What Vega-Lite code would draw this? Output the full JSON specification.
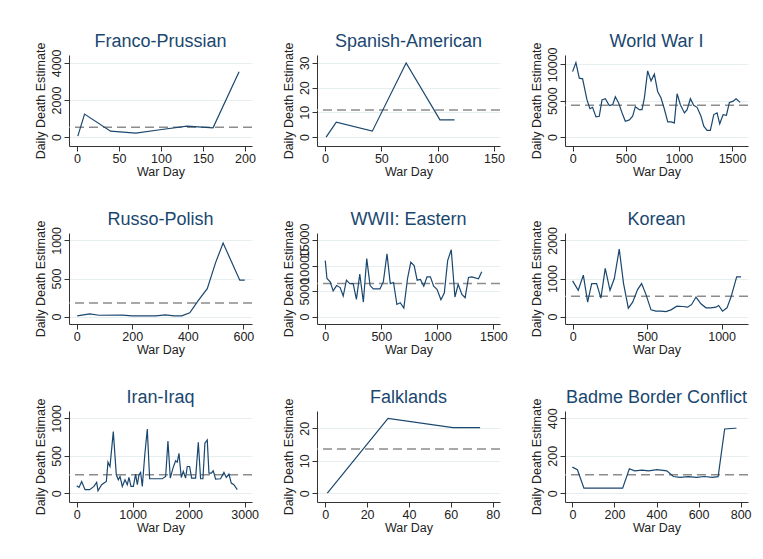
{
  "$schema": "https://vega.github.io/schema/vega-lite/v6.json",
  "background": "white",
  "padding": {"left": 33, "top": 33, "right": 5, "bottom": 5},
  "datasets": {
    "means": [
      {"war": "Franco-Prussian", "deaths": 533},
      {"war": "Spanish-American", "deaths": 11},
      {"war": "World War I", "deaths": 4360},
      {"war": "Russo-Polish", "deaths": 177},
      {"war": "WWII: Eastern", "deaths": 6500},
      {"war": "Korean", "deaths": 531},
      {"war": "Iran-Iraq", "deaths": 248},
      {"war": "Falklands", "deaths": 13.6},
      {"war": "Badme Border Conflict", "deaths": 99}
    ],
    "fp": [{"day":1,"deaths":50},{"day":9,"deaths":1240},{"day":40,"deaths":320},{"day":70,"deaths":210},{"day":101,"deaths":410},{"day":131,"deaths":590},{"day":162,"deaths":500},{"day":193,"deaths":3520}],
    "sa": [{"day":1,"deaths":0},{"day":10,"deaths":6},{"day":42,"deaths":2.4},{"day":72,"deaths":30},{"day":102,"deaths":7},{"day":115,"deaths":7}],
    "ww1": [{"day":0,"deaths":9000},{"day":31,"deaths":10230},{"day":63,"deaths":8090},{"day":94,"deaths":8000},{"day":135,"deaths":5140},{"day":163,"deaths":3900},{"day":188,"deaths":4090},{"day":220,"deaths":2770},{"day":251,"deaths":2860},{"day":276,"deaths":5090},{"day":308,"deaths":5270},{"day":345,"deaths":4320},{"day":377,"deaths":4450},{"day":402,"deaths":5545},{"day":433,"deaths":4680},{"day":471,"deaths":3090},{"day":496,"deaths":2180},{"day":534,"deaths":2360},{"day":565,"deaths":2860},{"day":590,"deaths":4180},{"day":628,"deaths":3770},{"day":653,"deaths":3770},{"day":675,"deaths":5360},{"day":706,"deaths":9090},{"day":738,"deaths":7730},{"day":769,"deaths":8640},{"day":800,"deaths":6270},{"day":832,"deaths":5360},{"day":863,"deaths":3860},{"day":895,"deaths":2090},{"day":926,"deaths":2090},{"day":957,"deaths":1950},{"day":983,"deaths":5950},{"day":1014,"deaths":4450},{"day":1052,"deaths":3320},{"day":1077,"deaths":3770},{"day":1108,"deaths":5270},{"day":1139,"deaths":4360},{"day":1171,"deaths":4090},{"day":1208,"deaths":2860},{"day":1234,"deaths":1500},{"day":1265,"deaths":910},{"day":1296,"deaths":910},{"day":1328,"deaths":3090},{"day":1359,"deaths":3320},{"day":1384,"deaths":1820},{"day":1416,"deaths":3090},{"day":1447,"deaths":3000},{"day":1475,"deaths":4770},{"day":1507,"deaths":4900},{"day":1538,"deaths":5270},{"day":1576,"deaths":4770}],
    "rp": [{"day":2,"deaths":10},{"day":47,"deaths":35},{"day":80,"deaths":18},{"day":164,"deaths":20},{"day":200,"deaths":10},{"day":284,"deaths":10},{"day":320,"deaths":22},{"day":350,"deaths":10},{"day":378,"deaths":10},{"day":407,"deaths":50},{"day":438,"deaths":212},{"day":470,"deaths":367},{"day":500,"deaths":708},{"day":527,"deaths":965},{"day":587,"deaths":478},{"day":605,"deaths":478}],
    "ww2": [{"day":0,"deaths":11020},{"day":15,"deaths":7500},{"day":44,"deaths":6840},{"day":70,"deaths":5050},{"day":101,"deaths":6110},{"day":133,"deaths":5710},{"day":160,"deaths":4050},{"day":189,"deaths":7170},{"day":219,"deaths":6500},{"day":249,"deaths":6500},{"day":278,"deaths":3390},{"day":308,"deaths":8360},{"day":340,"deaths":2860},{"day":370,"deaths":11420},{"day":400,"deaths":6110},{"day":429,"deaths":5440},{"day":459,"deaths":5440},{"day":488,"deaths":5440},{"day":518,"deaths":6840},{"day":551,"deaths":12350},{"day":580,"deaths":6500},{"day":609,"deaths":6710},{"day":639,"deaths":2390},{"day":669,"deaths":2720},{"day":701,"deaths":1660},{"day":734,"deaths":7500},{"day":763,"deaths":10690},{"day":793,"deaths":10030},{"day":820,"deaths":7170},{"day":849,"deaths":7300},{"day":879,"deaths":5980},{"day":908,"deaths":7830},{"day":938,"deaths":7830},{"day":967,"deaths":5980},{"day":997,"deaths":5380},{"day":1032,"deaths":3320},{"day":1062,"deaths":4650},{"day":1092,"deaths":11020},{"day":1124,"deaths":13150},{"day":1157,"deaths":3850},{"day":1186,"deaths":6370},{"day":1219,"deaths":4380},{"day":1248,"deaths":3720},{"day":1278,"deaths":7700},{"day":1308,"deaths":7830},{"day":1367,"deaths":7440},{"day":1396,"deaths":8830}],
    "ko": [{"day":0,"deaths":938},{"day":38,"deaths":690},{"day":72,"deaths":1088},{"day":101,"deaths":380},{"day":128,"deaths":867},{"day":161,"deaths":867},{"day":190,"deaths":487},{"day":219,"deaths":1265},{"day":251,"deaths":690},{"day":280,"deaths":1000},{"day":313,"deaths":1770},{"day":342,"deaths":867},{"day":374,"deaths":221},{"day":403,"deaths":380},{"day":436,"deaths":708},{"day":463,"deaths":867},{"day":492,"deaths":584},{"day":526,"deaths":177},{"day":559,"deaths":142},{"day":593,"deaths":142},{"day":626,"deaths":133},{"day":660,"deaths":177},{"day":700,"deaths":274},{"day":738,"deaths":265},{"day":772,"deaths":248},{"day":799,"deaths":319},{"day":828,"deaths":513},{"day":861,"deaths":336},{"day":895,"deaths":230},{"day":928,"deaths":230},{"day":962,"deaths":248},{"day":980,"deaths":292},{"day":1006,"deaths":142},{"day":1036,"deaths":230},{"day":1063,"deaths":513},{"day":1101,"deaths":1044},{"day":1130,"deaths":1044}],
    "ii": [{"day":0,"deaths":102},{"day":42,"deaths":80},{"day":89,"deaths":159},{"day":149,"deaths":49},{"day":232,"deaths":49},{"day":309,"deaths":93},{"day":357,"deaths":146},{"day":381,"deaths":35},{"day":446,"deaths":115},{"day":488,"deaths":137},{"day":530,"deaths":159},{"day":559,"deaths":416},{"day":595,"deaths":358},{"day":654,"deaths":823},{"day":708,"deaths":248},{"day":744,"deaths":181},{"day":774,"deaths":226},{"day":815,"deaths":93},{"day":863,"deaths":181},{"day":904,"deaths":115},{"day":934,"deaths":212},{"day":970,"deaths":93},{"day":1012,"deaths":93},{"day":1053,"deaths":257},{"day":1083,"deaths":115},{"day":1113,"deaths":248},{"day":1142,"deaths":279},{"day":1172,"deaths":93},{"day":1214,"deaths":491},{"day":1261,"deaths":858},{"day":1303,"deaths":195},{"day":1410,"deaths":195},{"day":1529,"deaths":195},{"day":1589,"deaths":226},{"day":1630,"deaths":699},{"day":1672,"deaths":204},{"day":1720,"deaths":336},{"day":1767,"deaths":434},{"day":1797,"deaths":416},{"day":1827,"deaths":535},{"day":1868,"deaths":212},{"day":1904,"deaths":292},{"day":1945,"deaths":204},{"day":1975,"deaths":358},{"day":2017,"deaths":358},{"day":2053,"deaths":204},{"day":2124,"deaths":204},{"day":2172,"deaths":681},{"day":2213,"deaths":195},{"day":2255,"deaths":195},{"day":2290,"deaths":668},{"day":2332,"deaths":712},{"day":2362,"deaths":270},{"day":2404,"deaths":270},{"day":2439,"deaths":301},{"day":2481,"deaths":190},{"day":2570,"deaths":195},{"day":2630,"deaths":279},{"day":2672,"deaths":212},{"day":2719,"deaths":257},{"day":2761,"deaths":137},{"day":2808,"deaths":115},{"day":2868,"deaths":49}],
    "fa": [{"day":1,"deaths":0.1},{"day":30,"deaths":23},{"day":61,"deaths":20.2},{"day":74,"deaths":20.2}],
    "ba": [{"day":0,"deaths":140},{"day":24,"deaths":126},{"day":55,"deaths":28},{"day":94,"deaths":28},{"day":142,"deaths":28},{"day":205,"deaths":28},{"day":239,"deaths":28},{"day":271,"deaths":131},{"day":296,"deaths":120},{"day":331,"deaths":124},{"day":362,"deaths":120},{"day":402,"deaths":126},{"day":449,"deaths":120},{"day":480,"deaths":90},{"day":512,"deaths":85},{"day":551,"deaths":89},{"day":591,"deaths":85},{"day":627,"deaths":90},{"day":665,"deaths":85},{"day":693,"deaths":89},{"day":724,"deaths":343},{"day":772,"deaths":347},{"day":780,"deaths":347}]
  },
  "columns": 3,
  "bounds": "flush",
  "spacing": {"row": 87, "column": 65},
  "concat": [
    {"title": "Franco-Prussian", "width": 183, "height": 91, "layer": [
      {"data": {"name": "means"}, "transform": [{"filter": "datum.war === 'Franco-Prussian'"}], "mark": {"type": "rule", "color": "#8c8c8c", "strokeDash": [9, 5], "strokeWidth": 1.5},
       "encoding": {"y": {"field": "deaths", "type": "quantitative", "title": "Daily Death Estimate", "scale": {"domain": [-480, 4427], "nice": false, "zero": false}, "axis": {"values": [0, 2000, 4000]}}}},
      {"data": {"name": "fp"}, "mark": {"type": "line", "color": "#1a476f", "strokeWidth": 1.2},
       "encoding": {"x": {"field": "day", "type": "quantitative", "title": "War Day", "scale": {"domain": [-9.5, 208.4], "nice": false, "zero": false}, "axis": {"values": [0, 50, 100, 150, 200]}},
                    "y": {"field": "deaths", "type": "quantitative", "title": "Daily Death Estimate", "scale": {"domain": [-480, 4427], "nice": false, "zero": false}, "axis": {"values": [0, 2000, 4000]}}}}
    ]},
    {"title": "Spanish-American", "width": 183, "height": 91, "layer": [
      {"data": {"name": "means"}, "transform": [{"filter": "datum.war === 'Spanish-American'"}], "mark": {"type": "rule", "color": "#8c8c8c", "strokeDash": [9, 5], "strokeWidth": 1.5},
       "encoding": {"y": {"field": "deaths", "type": "quantitative", "title": "Daily Death Estimate", "scale": {"domain": [-3.6, 33.2], "nice": false, "zero": false}, "axis": {"values": [0, 10, 20, 30]}}}},
      {"data": {"name": "sa"}, "mark": {"type": "line", "color": "#1a476f", "strokeWidth": 1.2},
       "encoding": {"x": {"field": "day", "type": "quantitative", "title": "War Day", "scale": {"domain": [-7.1, 155.3], "nice": false, "zero": false}, "axis": {"values": [0, 50, 100, 150]}},
                    "y": {"field": "deaths", "type": "quantitative", "title": "Daily Death Estimate", "scale": {"domain": [-3.6, 33.2], "nice": false, "zero": false}, "axis": {"values": [0, 10, 20, 30]}}}}
    ]},
    {"title": "World War I", "width": 183, "height": 91, "layer": [
      {"data": {"name": "means"}, "transform": [{"filter": "datum.war === 'World War I'"}], "mark": {"type": "rule", "color": "#8c8c8c", "strokeDash": [9, 5], "strokeWidth": 1.5},
       "encoding": {"y": {"field": "deaths", "type": "quantitative", "title": "Daily Death Estimate", "scale": {"domain": [-1228, 11280], "nice": false, "zero": false}, "axis": {"values": [0, 5000, 10000]}}}},
      {"data": {"name": "ww1"}, "mark": {"type": "line", "color": "#1a476f", "strokeWidth": 1.2},
       "encoding": {"x": {"field": "day", "type": "quantitative", "title": "War Day", "scale": {"domain": [-71.5, 1650], "nice": false, "zero": false}, "axis": {"values": [0, 500, 1000, 1500]}},
                    "y": {"field": "deaths", "type": "quantitative", "title": "Daily Death Estimate", "scale": {"domain": [-1228, 11280], "nice": false, "zero": false}, "axis": {"values": [0, 5000, 10000]}}}}
    ]},
    {"title": "Russo-Polish", "width": 183, "height": 91, "layer": [
      {"data": {"name": "means"}, "transform": [{"filter": "datum.war === 'Russo-Polish'"}], "mark": {"type": "rule", "color": "#8c8c8c", "strokeDash": [9, 5], "strokeWidth": 1.5},
       "encoding": {"y": {"field": "deaths", "type": "quantitative", "title": "Daily Death Estimate", "scale": {"domain": [-97, 1097], "nice": false, "zero": false}, "axis": {"values": [0, 500, 1000]}}}},
      {"data": {"name": "rp"}, "mark": {"type": "line", "color": "#1a476f", "strokeWidth": 1.2},
       "encoding": {"x": {"field": "day", "type": "quantitative", "title": "War Day", "scale": {"domain": [-27.6, 631], "nice": false, "zero": false}, "axis": {"values": [0, 200, 400, 600]}},
                    "y": {"field": "deaths", "type": "quantitative", "title": "Daily Death Estimate", "scale": {"domain": [-97, 1097], "nice": false, "zero": false}, "axis": {"values": [0, 500, 1000]}}}}
    ]},
    {"title": "WWII: Eastern", "width": 183, "height": 91, "layer": [
      {"data": {"name": "means"}, "transform": [{"filter": "datum.war === 'WWII: Eastern'"}], "mark": {"type": "rule", "color": "#8c8c8c", "strokeDash": [9, 5], "strokeWidth": 1.5},
       "encoding": {"y": {"field": "deaths", "type": "quantitative", "title": "Daily Death Estimate", "scale": {"domain": [-1454, 16454], "nice": false, "zero": false}, "axis": {"values": [0, 5000, 10000, 15000]}}}},
      {"data": {"name": "ww2"}, "mark": {"type": "line", "color": "#1a476f", "strokeWidth": 1.2},
       "encoding": {"x": {"field": "day", "type": "quantitative", "title": "War Day", "scale": {"domain": [-73.7, 1559], "nice": false, "zero": false}, "axis": {"values": [0, 500, 1000, 1500]}},
                    "y": {"field": "deaths", "type": "quantitative", "title": "Daily Death Estimate", "scale": {"domain": [-1454, 16454], "nice": false, "zero": false}, "axis": {"values": [0, 5000, 10000, 15000]}}}}
    ]},
    {"title": "Korean", "width": 183, "height": 91, "layer": [
      {"data": {"name": "means"}, "transform": [{"filter": "datum.war === 'Korean'"}], "mark": {"type": "rule", "color": "#8c8c8c", "strokeDash": [9, 5], "strokeWidth": 1.5},
       "encoding": {"y": {"field": "deaths", "type": "quantitative", "title": "Daily Death Estimate", "scale": {"domain": [-194, 2194], "nice": false, "zero": false}, "axis": {"values": [0, 1000, 2000]}}}},
      {"data": {"name": "ko"}, "mark": {"type": "line", "color": "#1a476f", "strokeWidth": 1.2},
       "encoding": {"x": {"field": "day", "type": "quantitative", "title": "War Day", "scale": {"domain": [-51, 1177], "nice": false, "zero": false}, "axis": {"values": [0, 500, 1000]}},
                    "y": {"field": "deaths", "type": "quantitative", "title": "Daily Death Estimate", "scale": {"domain": [-194, 2194], "nice": false, "zero": false}, "axis": {"values": [0, 1000, 2000]}}}}
    ]},
    {"title": "Iran-Iraq", "width": 183, "height": 91, "layer": [
      {"data": {"name": "means"}, "transform": [{"filter": "datum.war === 'Iran-Iraq'"}], "mark": {"type": "rule", "color": "#8c8c8c", "strokeDash": [9, 5], "strokeWidth": 1.5},
       "encoding": {"y": {"field": "deaths", "type": "quantitative", "title": "Daily Death Estimate", "scale": {"domain": [-115, 1098], "nice": false, "zero": false}, "axis": {"values": [0, 500, 1000]}}}},
      {"data": {"name": "ii"}, "mark": {"type": "line", "color": "#1a476f", "strokeWidth": 1.2},
       "encoding": {"x": {"field": "day", "type": "quantitative", "title": "War Day", "scale": {"domain": [-137, 3131], "nice": false, "zero": false}, "axis": {"values": [0, 1000, 2000, 3000]}},
                    "y": {"field": "deaths", "type": "quantitative", "title": "Daily Death Estimate", "scale": {"domain": [-115, 1098], "nice": false, "zero": false}, "axis": {"values": [0, 500, 1000]}}}}
    ]},
    {"title": "Falklands", "width": 183, "height": 91, "layer": [
      {"data": {"name": "means"}, "transform": [{"filter": "datum.war === 'Falklands'"}], "mark": {"type": "rule", "color": "#8c8c8c", "strokeDash": [9, 5], "strokeWidth": 1.5},
       "encoding": {"y": {"field": "deaths", "type": "quantitative", "title": "Daily Death Estimate", "scale": {"domain": [-2.66, 25.3], "nice": false, "zero": false}, "axis": {"values": [0, 10, 20]}}}},
      {"data": {"name": "fa"}, "mark": {"type": "line", "color": "#1a476f", "strokeWidth": 1.2},
       "encoding": {"x": {"field": "day", "type": "quantitative", "title": "War Day", "scale": {"domain": [-3.94, 83.5], "nice": false, "zero": false}, "axis": {"values": [0, 20, 40, 60, 80]}},
                    "y": {"field": "deaths", "type": "quantitative", "title": "Daily Death Estimate", "scale": {"domain": [-2.66, 25.3], "nice": false, "zero": false}, "axis": {"values": [0, 10, 20]}}}}
    ]},
    {"title": "Badme Border Conflict", "width": 183, "height": 91, "layer": [
      {"data": {"name": "means"}, "transform": [{"filter": "datum.war === 'Badme Border Conflict'"}], "mark": {"type": "rule", "color": "#8c8c8c", "strokeDash": [9, 5], "strokeWidth": 1.5},
       "encoding": {"y": {"field": "deaths", "type": "quantitative", "title": "Daily Death Estimate", "scale": {"domain": [-46, 439], "nice": false, "zero": false}, "axis": {"values": [0, 200, 400]}}}},
      {"data": {"name": "ba"}, "mark": {"type": "line", "color": "#1a476f", "strokeWidth": 1.2},
       "encoding": {"x": {"field": "day", "type": "quantitative", "title": "War Day", "scale": {"domain": [-35, 835], "nice": false, "zero": false}, "axis": {"values": [0, 200, 400, 600, 800]}},
                    "y": {"field": "deaths", "type": "quantitative", "title": "Daily Death Estimate", "scale": {"domain": [-46, 439], "nice": false, "zero": false}, "axis": {"values": [0, 200, 400]}}}}
    ]}
  ],
  "config": {
    "font": "Liberation Sans",
    "view": {"stroke": null},
    "title": {"fontSize": 18, "fontWeight": "normal", "color": "#1a476f", "anchor": "middle", "frame": "group", "offset": -9},
    "axis": {
      "domainColor": "#333333", "tickColor": "#333333", "labelColor": "#222222", "titleColor": "#222222",
      "labelFontSize": 12.5, "titleFontSize": 12.5, "titleFontWeight": "normal", "tickSize": 5,
      "labelOverlap": false, "labelFlush": false, "labelBound": false, "labelPadding": 1, "format": "d"
    },
    "axisX": {"grid": false, "titlePadding": 1},
    "axisY": {"grid": true, "gridColor": "#e6eeef", "labelAngle": -90, "labelAlign": "center", "labelBaseline": "bottom", "titlePadding": 3}
  }
}
